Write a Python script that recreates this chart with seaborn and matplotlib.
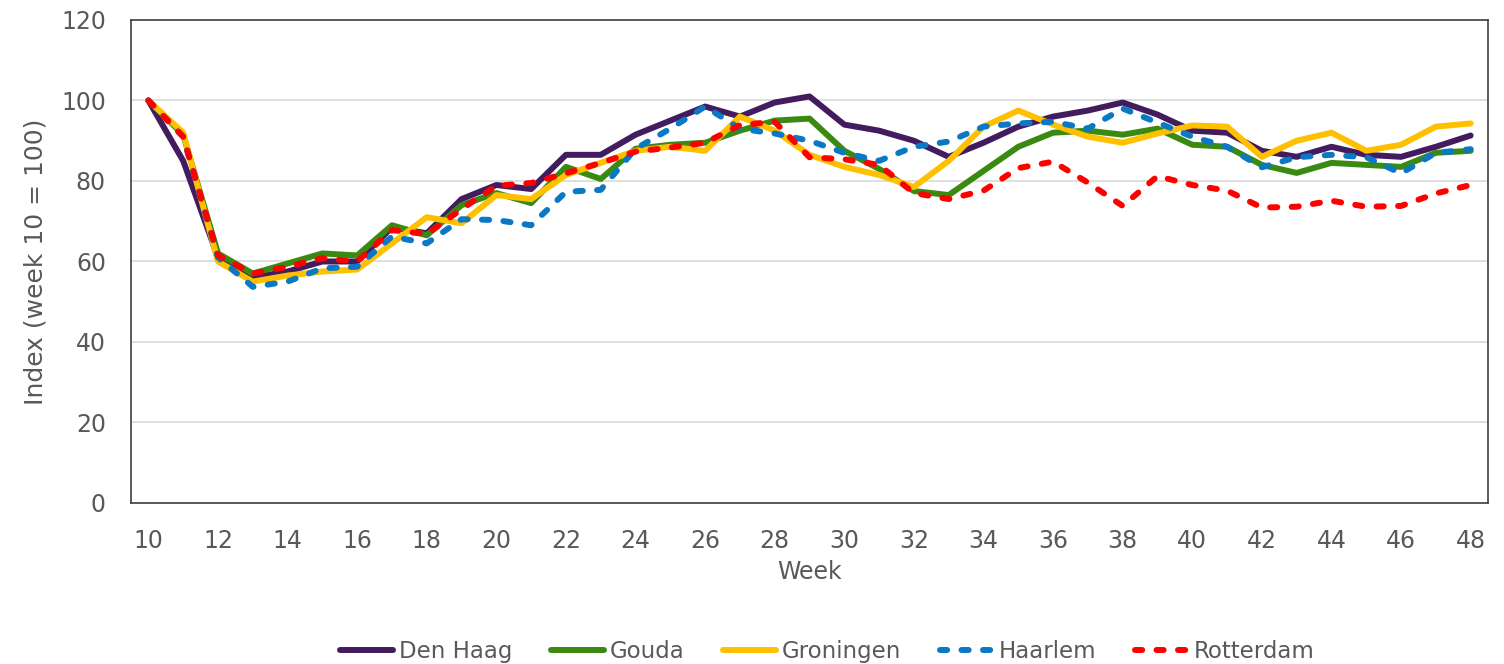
import pandas as pd
import matplotlib.pyplot as plt
import seaborn as sns
from matplotlib.ticker import MultipleLocator

weeks = list(range(10, 49))

den_haag = [100, 85, 61, 56, 57.5, 60, 60, 68.5, 67, 75.5, 79, 78, 86.5, 86.5, 91.5, 95, 98.5,
            96, 99.5, 101, 94, 92.5, 90, 86, 89.5, 93.5, 96, 97.5, 99.5, 96.5, 92.5, 92, 87.5,
            86, 88.5, 86.5, 86, 88.5, 91.3]
gouda = [100, 91.5, 62, 57, 59.5, 62, 61.5, 69, 66.5, 74, 77, 74.5, 83.5, 80.5, 88, 89, 89.5,
         92.5, 95, 95.5, 87.5, 83, 77.5, 76.5, 82.5, 88.5, 92, 92.5, 91.5, 93, 89, 88.5, 84,
         82, 84.5, 84, 83.5, 87, 87.5]
groningen = [100, 92, 60, 55, 56.5, 57.5, 58, 64.5, 71, 69.5, 76.5, 75.5, 81.5, 84.5, 87.5,
             88.5, 87.5, 96, 92.5, 86.5, 83.5, 81.5, 78.5, 85, 93.5, 97.5, 94, 91, 89.5, 91.8,
             93.8, 93.5, 86, 90, 92, 87.5, 89, 93.5, 94.3]
haarlem = [100, 91, 61, 53.7, 55, 58.3, 58.7, 66.2, 64.5, 70.5, 70.3, 69, 77.3, 77.8, 88, 93,
           98.5, 93, 91.8, 90, 87, 85, 88.5, 89.8, 93.5, 94.3, 94.7, 93, 98, 94.5, 91, 88.5,
           83.4, 85.9, 86.5, 85.9, 81.9, 87, 87.9]
rotterdam = [100, 91, 61.5, 57, 58.7, 60.8, 60, 67.8, 66.8, 73, 78.8, 79.5, 81.9, 84.5, 87.3,
             88.3, 89.5, 93.9, 94.7, 85.9, 85.4, 84, 77, 75.5, 77.6, 83.2, 84.8, 79.6, 73.8,
             81.2, 79, 77.6, 73.4, 73.6, 75.1, 73.6, 73.8, 76.9, 79]

cities = ["Den Haag", "Gouda", "Groningen", "Haarlem", "Rotterdam"]
series = [den_haag, gouda, groningen, haarlem, rotterdam]
colors = ["#421C5F", "#3A8A12", "#FFC000", "#0A78C5", "#FF0000"]

df = pd.concat(
    [pd.DataFrame({"Week": weeks, "Index": vals, "City": c}) for c, vals in zip(cities, series)],
    ignore_index=True,
)

sns.set_style("white")
plt.rcParams["font.family"] = ["DejaVu Sans"]

fig = plt.figure(figsize=(15.04, 6.64), dpi=100)
ax = fig.add_axes([0.0871, 0.2425, 0.9023, 0.7274])

dash_map = {"Den Haag": "", "Gouda": "", "Groningen": "", "Haarlem": (1.2, 2.4), "Rotterdam": (1.2, 2.4)}

sns.lineplot(
    data=df, x="Week", y="Index", hue="City", style="City",
    hue_order=cities, style_order=cities,
    palette=dict(zip(cities, colors)), dashes=dash_map,
    linewidth=4.3, legend=False, ax=ax,
    dash_capstyle="round", solid_joinstyle="round", dash_joinstyle="round",
)

ax.set_xlim(9.5, 48.5)
ax.set_ylim(0, 120)
ax.set_yticks(range(0, 121, 20))
ax.set_xticks(range(10, 49, 2))
ax.xaxis.set_minor_locator(MultipleLocator(1, offset=0.5))
ax.tick_params(axis="x", which="major", length=0, pad=19, labelsize=17, labelcolor="#595959")
ax.tick_params(axis="x", which="minor", length=9, width=1.2, color="#404040", direction="out")
ax.tick_params(axis="y", length=0, pad=18, labelsize=17, labelcolor="#595959")
ax.yaxis.grid(True, color="#D9D9D9", linewidth=1.2)
ax.set_axisbelow(True)
for s in ax.spines.values():
    s.set_color("#404040")
    s.set_linewidth(1.2)

ax.set_xlabel("Week", fontsize=17, color="#595959", labelpad=5)
ax.set_ylabel("Index (week 10 = 100)", fontsize=18, color="#595959", labelpad=10)

fig.legend(
    ax.lines[:5], cities, loc="lower center", bbox_to_anchor=(0.55, -0.03),
    ncol=5, frameon=False, fontsize=16.5, handlelength=2.3, handletextpad=0.25,
    columnspacing=1.7, labelcolor="#595959",
)

fig.savefig("out.png", dpi=100)
